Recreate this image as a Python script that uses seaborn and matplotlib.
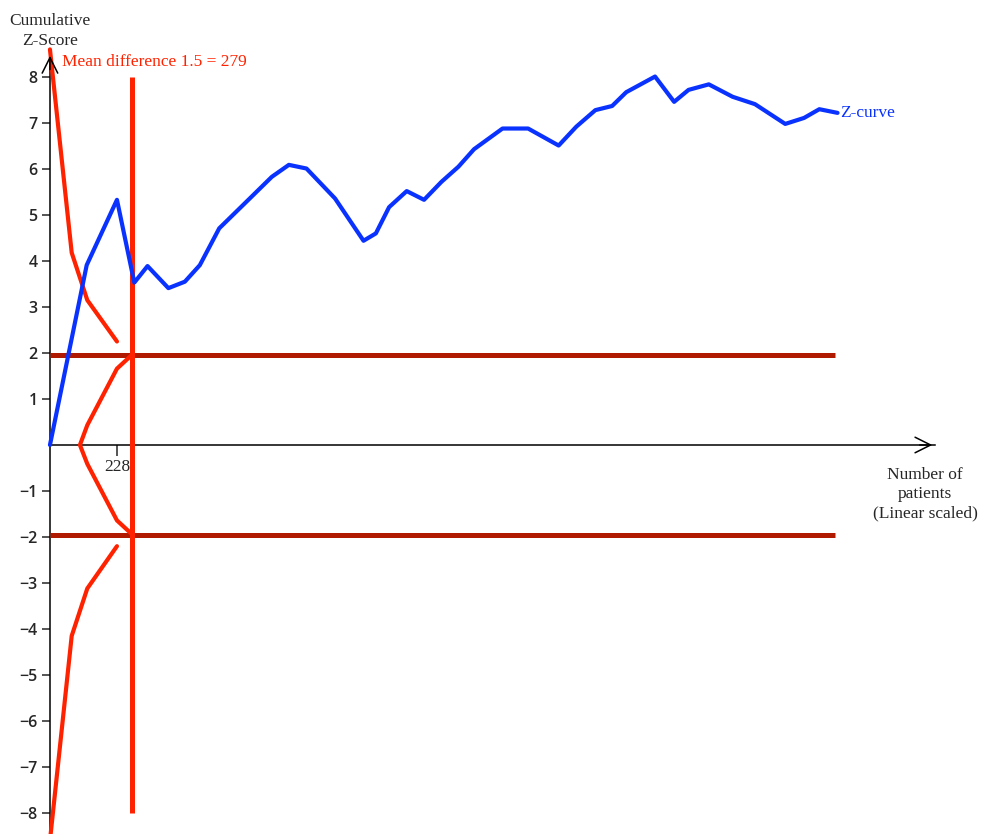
import numpy as np
import pandas as pd
import matplotlib
matplotlib.use("Agg")
import matplotlib.pyplot as plt
import seaborn as sns

# cumulative Z-curve (patients, z)
z_patients = [0, 125, 228, 287, 332, 403, 459, 510, 576, 680, 755, 813, 873, 970,
              1067, 1109, 1154, 1214, 1273, 1332, 1390, 1443, 1540, 1627, 1731,
              1791, 1856, 1913, 1961, 2059, 2124, 2173, 2242, 2323, 2399, 2502,
              2566, 2618, 2680]
z_values = [0, 3.91, 5.33, 3.53, 3.89, 3.41, 3.55, 3.91, 4.71, 5.36, 5.83, 6.09,
            6.01, 5.36, 4.44, 4.60, 5.17, 5.52, 5.33, 5.72, 6.05, 6.43, 6.88, 6.88,
            6.51, 6.92, 7.28, 7.37, 7.67, 8.01, 7.46, 7.72, 7.84, 7.57, 7.41, 6.98,
            7.11, 7.30, 7.22]

# monitoring boundaries (alpha spending)
bound_patients = [0, 74, 127, 228]
bound_upper = [8.6, 4.18, 3.15, 2.25]
bound_lower = [-8.6, -4.15, -3.12, -2.20]

# futility wedge
wedge_patients = [279, 228, 127, 102, 127, 228, 279]
wedge_values = [1.96, 1.66, 0.43, 0.0, -0.41, -1.64, -1.94]

ris = 279            # required information size
ris_label = "Mean difference 1.5 = 279"
conv_z = [1.96, -1.96]
n_max = 2671
xtick_vals = [228]
ytick_vals = [-8, -7, -6, -5, -4, -3, -2, -1, 1, 2, 3, 4, 5, 6, 7, 8]

BLUE = "#0a32ff"
RED = "#ff2200"
DARK_RED = "#b01a00"
SERIF = "Liberation Serif"

sns.set_style("white")
plt.rcParams["font.family"] = ["Open Sans", "DejaVu Sans"]

zcurve = pd.DataFrame({"patients": z_patients, "z": z_values})
bounds = pd.concat([
    pd.DataFrame({"patients": bound_patients, "z": bound_upper, "seg": "upper"}),
    pd.DataFrame({"patients": bound_patients, "z": bound_lower, "seg": "lower"}),
    pd.DataFrame({"patients": wedge_patients, "z": wedge_values, "seg": "wedge"}),
], ignore_index=True)

fig = plt.figure(figsize=(9.83, 8.34), dpi=100)
ax = fig.add_axes([0, 0, 1, 1])
ax.set_xlim(-170, 3175)
ax.set_ylim(-8.457, 9.674)

ax.hlines(conv_z, 0, n_max, color=DARK_RED, lw=3.6, zorder=2)
sns.lineplot(data=bounds, x="patients", y="z", units="seg", estimator=None,
             sort=False, color=RED, lw=3.0, ax=ax, zorder=3)
ax.vlines(ris, -8, 8, color=RED, lw=3.6, zorder=3)
sns.lineplot(data=zcurve, x="patients", y="z", estimator=None, sort=False,
             color=BLUE, lw=3.0, ax=ax, zorder=4)

# axes through origin
for s in ["top", "right"]:
    ax.spines[s].set_visible(False)
ax.spines["left"].set_position(("data", 0))
ax.spines["bottom"].set_position(("data", 0))
ax.spines["left"].set_bounds(-8.6, 8.5)
ax.spines["bottom"].set_bounds(0, 3012)
for s in ["left", "bottom"]:
    ax.spines[s].set_linewidth(1.1)
    ax.spines[s].set_color("black")
    ax.spines[s].set_zorder(1)

ax.annotate("", xy=(3012, 0), xytext=(2950, 0),
            arrowprops=dict(arrowstyle="->", lw=1.1, color="black", mutation_scale=28))
ax.annotate("", xy=(0, 8.52), xytext=(0, 8.1),
            arrowprops=dict(arrowstyle="->", lw=1.1, color="black", mutation_scale=28))

ax.set_yticks(ytick_vals)
ax.set_yticklabels([f"{v}".replace("-", "\u2212") for v in ytick_vals],
                   fontweight="semibold")
ax.tick_params(axis="y", direction="out", length=6, width=1.1, pad=3,
               labelsize=11.5, left=True)
ax.set_xticks(xtick_vals)
ax.set_xticklabels([str(v) for v in xtick_vals], fontfamily=SERIF, fontsize=12.5)
ax.tick_params(axis="x", direction="out", length=8, width=1.1, pad=2, bottom=True)
ax.set_xlabel("")
ax.set_ylabel("")
ax.grid(False)

ax.text(0, 9.0, "Cumulative\nZ-Score", ha="center", va="center",
        multialignment="center", fontfamily=SERIF, fontsize=12.5, linespacing=1.3)
ax.text(41, 8.33, ris_label, ha="left", va="center", color=RED,
        fontfamily=SERIF, fontsize=12.5)
ax.text(z_patients[-1] + 10, z_values[-1], "Z-curve", ha="left", va="center",
        color=BLUE, fontfamily=SERIF, fontsize=12.5)
ax.text(2978, -1.07, "Number of\npatients\n(Linear scaled)", ha="center",
        va="center", multialignment="center", fontfamily=SERIF, fontsize=12.5,
        linespacing=1.25)

fig.savefig("out.png", dpi=100)
